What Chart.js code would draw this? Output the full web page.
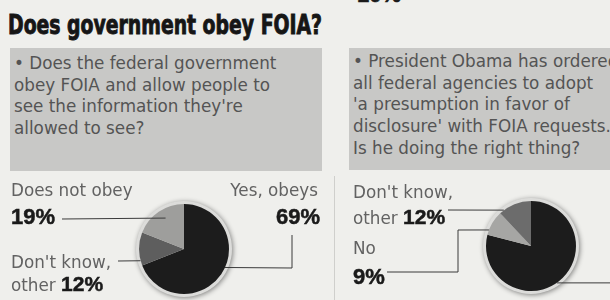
<!DOCTYPE html>
<html>
<head>
<meta charset="utf-8">
<script src="https://cdn.jsdelivr.net/npm/chart.js@4.4.1/dist/chart.umd.min.js"></script>
<style>
  html, body { margin: 0; padding: 0; }
  body { width: 610px; height: 300px; overflow: hidden; background: #efefec; position: relative;
         font-family: "DejaVu Sans", sans-serif; }
  .abs { position: absolute; white-space: nowrap; }
  .title { left: 8px; top: 10px; font-family: "DejaVu Sans Condensed", "DejaVu Sans", sans-serif;
           font-weight: bold; font-size: 27px; line-height: 30px; color: #161616; transform-origin: 0 0;
           -webkit-text-stroke: 0.9px #161616; }
  .box { background: #c8c8c6; }
  .q { font-size: 16.8px; line-height: 21.7px; color: #545454; }
  .lbl { font-size: 16.8px; line-height: 20px; color: #626262; }
  .pct { font-family: "Liberation Sans", sans-serif; font-weight: bold; font-size: 22px; line-height: 22px; color: #1a1a1a;
         -webkit-text-stroke: 0.5px #1a1a1a; }
  canvas { position: absolute; top: 0; }
</style>
</head>
<body>
<script>
// ---- data ----
const obeyLabels = ['Yes, obeys', "Don't know, other", 'Does not obey'];
const obeyValues = [69, 12, 19];
const obamaLabels = ['Yes', 'No', "Don't know, other"];
const obamaValues = [79, 9, 12];
const obeyQuestion = ['\u2022 Does the federal government', 'obey FOIA and allow people to',
  "see the information they're", 'allowed to see?'];
const obamaQuestion = ['\u2022 President Obama has ordered', 'all federal agencies to adopt',
  "'a presumption in favor of", "disclosure' with FOIA requests.", 'Is he doing the right thing?'];
const title = 'Does government obey FOIA?';
</script>

<div class="abs title" id="title"></div>
<div class="abs pct" style="left:357px;top:-16px">10%</div>
<div class="abs box" style="left:10px;top:48px;width:312px;height:123px"></div>
<div class="abs box" style="left:349px;top:48px;width:261px;height:122px"></div>
<div class="abs" style="left:334px;top:176px;width:1px;height:124px;background:#cfcfcc"></div>
<div class="abs q" id="q1" style="left:14px;top:53px"></div>
<div class="abs q" id="q2" style="left:353px;top:51px"></div>

<canvas id="c1" width="335" height="300" style="left:0"></canvas>
<canvas id="c2" width="275" height="300" style="left:335px"></canvas>

<!-- labels -->
<div class="abs lbl" style="left:11px;top:180px">Does not obey</div>
<div class="abs pct" style="left:11px;top:206px">19%</div>
<div class="abs lbl" style="right:292px;top:180px">Yes, obeys</div>
<div class="abs pct" style="right:290px;top:206px">69%</div>
<div class="abs lbl" style="left:11px;top:252px">Don't know,</div>
<div class="abs" style="left:11px;top:273px"><span class="lbl">other </span><span class="pct" style="font-size:21px">12%</span></div>

<div class="abs lbl" style="left:353px;top:182px">Don't know,</div>
<div class="abs" style="left:353px;top:206px"><span class="lbl">other </span><span class="pct" style="font-size:21px">12%</span></div>
<div class="abs lbl" style="left:353px;top:238px">No</div>
<div class="abs pct" style="left:353px;top:266px">9%</div>

<script>
document.getElementById('title').textContent = title;
document.getElementById('q1').innerHTML = obeyQuestion.join('<br>');
document.getElementById('q2').innerHTML = obamaQuestion.join('<br>');
// stretch title to the width it has in the print
(function () {
  const t = document.getElementById('title');
  const w = t.getBoundingClientRect().width;
  t.style.transform = 'scaleX(' + (314 / w) + ')';
})();

// point on a slice: t = fraction along the slice's angle, r = fraction of radius
function slicePoint(arc, t, r) {
  const a = arc.startAngle + (arc.endAngle - arc.startAngle) * t;
  const rad = arc.outerRadius * r;
  return { x: arc.x + Math.cos(a) * rad, y: arc.y + Math.sin(a) * rad };
}

// ring/shadow under the pie and leader lines from labels
const pieDecor = {
  id: 'pieDecor',
  beforeDatasetsDraw(chart) {
    const arc = chart.getDatasetMeta(0).data[0];
    const ctx = chart.ctx;
    ctx.save();
    ctx.shadowColor = 'rgba(0,0,0,0.45)';
    ctx.shadowBlur = 5;
    ctx.shadowOffsetX = 1;
    ctx.shadowOffsetY = 1;
    ctx.fillStyle = '#dcdcda';
    ctx.beginPath();
    ctx.arc(arc.x, arc.y, arc.outerRadius + 3, 0, Math.PI * 2);
    ctx.fill();
    ctx.restore();
  },
  afterDatasetsDraw(chart, args, opts) {
    const arcs = chart.getDatasetMeta(0).data;
    const ctx = chart.ctx;
    ctx.save();
    ctx.strokeStyle = '#3a3a3a';
    ctx.lineWidth = 1;
    opts.leaders.forEach(l => {
      const p = slicePoint(arcs[l.index], l.t, l.r);
      ctx.beginPath();
      if (l.toEdge) {
        // line runs from the slice off the right edge
        ctx.moveTo(p.x, p.y);
        ctx.lineTo(opts.width, p.y);
      } else {
        const pts = l.path.map(q => ({ x: q[0] - opts.offset, y: q[1] }));
        ctx.moveTo(pts[0].x, pts[0].y);
        for (let i = 1; i < pts.length; i++) ctx.lineTo(pts[i].x, pts[i].y);
        ctx.lineTo(p.x, p.y);
      }
      ctx.stroke();
    });
    ctx.restore();
  }
};

function makePie(id, labels, values, colors, padding, offset, width, leaders) {
  return new Chart(document.getElementById(id), {
    type: 'pie',
    data: { labels: labels, datasets: [{ data: values, backgroundColor: colors, borderWidth: 0 }] },
    options: {
      responsive: false,
      animation: false,
      layout: { padding: padding },
      plugins: {
        legend: { display: false },
        tooltip: { enabled: false },
        pieDecor: { leaders: leaders, offset: offset, width: width }
      }
    },
    plugins: [pieDecor]
  });
}

makePie('c1', obeyLabels, obeyValues, ['#1c1c1c', '#5e5e5e', '#9e9e9c'],
  { left: 139, right: 106, top: 204, bottom: 6 }, 0, 335, [
    { index: 2, t: 0.55, r: 0.8, path: [[62, 219]] },
    { index: 1, t: 0.15, r: 1.0, path: [[118, 261]] },
    { index: 0, t: 0.46, r: 1.0, path: [[292, 235], [292, 268]] }
  ]);

makePie('c2', obamaLabels, obamaValues, ['#1c1c1c', '#a6a6a4', '#6c6c6c'],
  { left: 151, right: 34, top: 201, bottom: 9 }, 335, 275, [
    { index: 2, t: 0.14, r: 1.0, path: [[448, 210]] },
    { index: 1, t: 0.2, r: 1.0, path: [[387, 272], [458, 272], [458, 230]] },
    { index: 0, t: 0.51, r: 1.0, path: [], toEdge: true }
  ]);
</script>
</body>
</html>
